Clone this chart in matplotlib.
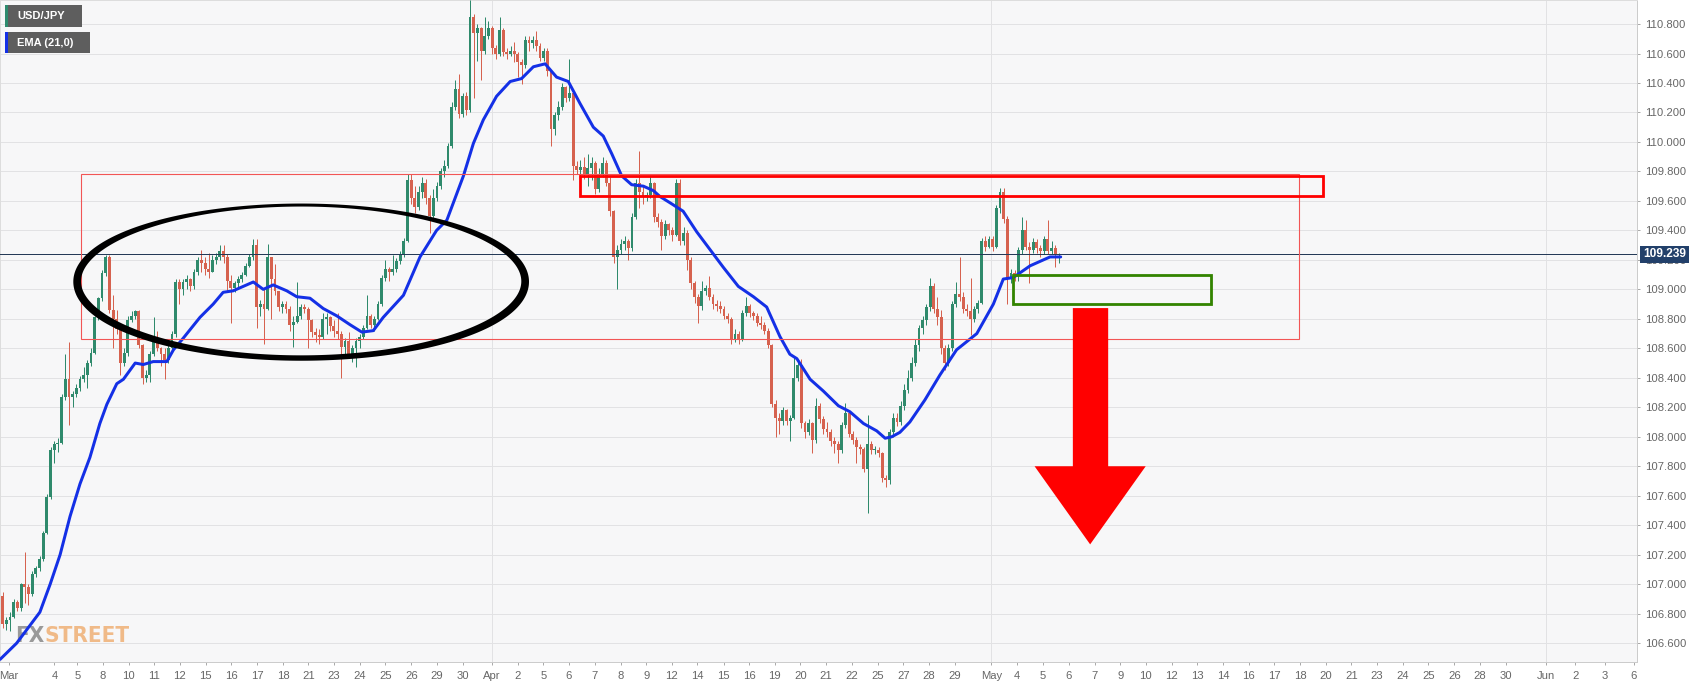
import matplotlib
matplotlib.use('Agg')
import numpy as np
import matplotlib.pyplot as plt
from matplotlib.patches import Rectangle, Polygon
from matplotlib import font_manager as fm

# ---------------- data ----------------
first_open = 106.92
close = [
106.73,106.76,106.78,106.88,106.84,107.00,106.98,106.93,107.07,107.11,
107.17,107.35,107.59,107.91,107.95,107.96,108.27,108.39,108.27,108.29,
108.33,108.39,108.42,108.50,108.57,108.81,108.94,109.11,109.22,108.86,
108.80,108.73,108.50,108.57,108.79,108.82,108.85,108.62,108.40,108.42,
108.56,108.66,108.60,108.56,108.52,108.60,108.70,109.05,109.00,109.05,
109.07,109.02,109.12,109.20,109.18,109.14,109.12,109.20,109.22,109.26,
109.22,109.06,109.01,109.04,109.07,109.10,109.16,109.22,109.30,108.88,
108.90,108.87,109.22,109.07,108.99,108.88,108.90,108.87,108.76,108.78,
108.82,108.88,108.87,108.79,108.71,108.69,108.68,108.80,108.81,108.75,
108.72,108.70,108.61,108.65,108.56,108.60,108.65,108.68,108.74,108.82,
108.76,108.80,108.90,109.08,109.14,109.12,109.14,109.19,109.24,109.33,
109.74,109.62,109.56,109.66,109.72,109.62,109.50,109.62,109.70,109.80,
109.84,109.97,110.24,110.36,110.19,110.31,110.22,110.85,110.74,110.77,
110.62,110.72,110.77,110.64,110.60,110.76,110.61,110.60,110.62,110.60,
110.54,110.52,110.69,110.67,110.69,110.65,110.57,110.62,110.48,110.09,
110.18,110.24,110.37,110.30,110.33,109.84,109.81,109.83,109.78,109.82,
109.86,109.68,109.78,109.86,109.72,109.53,109.22,109.27,109.31,109.33,
109.28,109.49,109.72,109.66,109.63,109.64,109.72,109.49,109.46,109.36,
109.44,109.40,109.37,109.72,109.33,109.38,109.20,109.04,108.95,108.89,
108.99,109.01,108.95,108.90,108.89,108.87,108.82,108.80,108.66,108.70,
108.66,108.84,108.89,108.84,108.82,108.77,108.76,108.72,108.62,108.22,
108.13,108.11,108.18,108.11,108.13,108.40,108.49,108.09,108.03,108.09,
107.98,108.21,108.12,108.05,108.03,107.97,107.95,107.91,108.08,108.16,
108.02,107.98,107.93,107.92,107.78,107.95,107.91,107.91,107.89,107.72,
107.71,108.03,108.13,108.10,108.21,108.32,108.40,108.50,108.62,108.74,
108.79,108.88,109.02,108.87,108.81,108.60,108.50,108.60,108.90,108.97,
108.95,108.87,108.85,108.80,108.87,108.91,109.33,109.29,109.34,109.29,
109.55,109.66,109.48,109.07,109.11,109.09,109.27,109.40,109.29,109.27,
109.32,109.28,109.26,109.34,109.26,109.28,109.23,109.239]
high = [
106.95,106.78,106.81,106.90,106.89,107.01,107.22,107.00,107.09,107.12,
107.19,107.36,107.61,107.93,107.97,107.99,108.29,108.56,108.64,108.31,
108.36,108.41,108.47,108.52,108.60,108.82,108.95,109.13,109.23,109.23,
108.96,108.86,108.76,108.60,108.82,108.85,108.86,108.86,108.63,108.45,
108.58,108.81,108.72,108.61,108.60,108.62,108.72,109.07,109.07,109.07,
109.10,109.08,109.14,109.22,109.27,109.22,109.25,109.23,109.25,109.30,
109.30,109.24,109.10,109.06,109.09,109.12,109.18,109.24,109.34,109.34,
108.93,109.00,109.31,109.22,109.17,108.98,108.92,108.92,108.89,108.82,
109.05,108.90,108.90,108.88,108.80,108.74,108.73,108.84,108.84,108.82,
108.79,108.84,108.72,108.67,108.71,108.62,108.67,108.70,108.76,108.96,
108.83,108.82,108.92,109.10,109.20,109.15,109.23,109.21,109.26,109.35,
109.78,109.78,109.70,109.70,109.76,109.75,109.64,109.68,109.73,109.82,
109.88,109.99,110.27,110.42,110.46,110.33,110.34,110.96,110.87,110.80,
110.78,110.85,110.82,110.79,110.66,110.85,110.77,110.64,110.65,110.68,
110.61,110.56,110.72,110.72,110.72,110.75,110.67,110.64,110.64,110.49,
110.20,110.28,110.40,110.38,110.56,110.35,109.87,109.88,109.90,109.92,
109.90,109.87,109.82,109.90,109.88,109.76,109.54,109.30,109.34,109.36,
109.34,109.52,109.75,109.94,109.70,109.66,109.77,109.73,109.52,109.48,
109.47,109.45,109.42,109.75,109.75,109.42,109.40,109.22,109.06,108.97,
109.06,109.03,109.09,108.97,108.93,108.92,108.89,108.84,108.81,108.73,
108.72,108.86,108.95,108.90,108.85,108.84,108.82,108.78,108.74,108.63,
108.25,108.16,108.20,108.19,108.15,108.54,108.52,108.53,108.11,108.12,
108.10,108.26,108.23,108.14,108.10,108.05,108.00,107.97,108.10,108.23,
108.17,108.04,108.00,107.95,107.93,108.15,107.97,107.94,107.93,107.90,
107.74,108.05,108.16,108.16,108.24,108.36,108.45,108.54,108.66,108.76,
108.82,108.90,109.08,109.04,108.95,108.86,108.62,108.63,108.92,109.05,
109.22,108.98,108.90,109.08,108.89,108.93,109.35,109.36,109.36,109.36,
109.57,109.69,109.69,109.50,109.14,109.13,109.29,109.49,109.47,109.32,
109.35,109.34,109.30,109.36,109.47,109.33,109.30,109.25]
low = [
106.70,106.69,106.68,106.77,106.82,106.82,106.87,106.86,106.92,107.05,
107.09,107.16,107.34,107.58,107.82,107.90,107.95,108.25,108.08,108.20,
108.27,108.31,108.37,108.33,108.48,108.56,108.79,108.92,109.09,108.84,
108.60,108.70,108.42,108.48,108.55,108.78,108.80,108.60,108.36,108.37,
108.37,108.55,108.58,108.48,108.39,108.50,108.58,108.68,108.90,108.96,
109.00,108.99,109.00,109.10,109.12,109.10,109.08,109.12,109.17,109.20,
109.18,108.98,108.77,108.98,109.00,109.05,109.09,109.15,109.20,108.74,
108.82,108.63,108.86,108.80,108.96,108.85,108.84,108.84,108.72,108.61,
108.77,108.80,108.84,108.60,108.68,108.64,108.63,108.66,108.70,108.72,
108.68,108.66,108.40,108.56,108.54,108.51,108.47,108.60,108.66,108.73,
108.74,108.72,108.79,108.89,109.06,109.06,109.10,109.12,109.17,109.22,
109.32,109.58,109.52,109.54,109.62,109.58,109.38,109.48,109.60,109.68,
109.76,109.82,109.96,110.22,110.16,110.17,110.18,110.20,110.30,110.55,
110.42,110.60,110.70,110.60,110.56,110.58,110.58,110.56,110.58,110.54,
110.44,110.39,110.50,110.62,110.64,110.62,110.55,110.55,110.45,109.97,
110.05,110.15,110.22,110.27,110.28,109.74,109.78,109.77,109.75,109.70,
109.74,109.65,109.66,109.76,109.70,109.50,109.18,109.00,109.24,109.27,
109.20,109.26,109.48,109.55,109.58,109.60,109.62,109.46,109.42,109.27,
109.34,109.37,109.33,109.36,109.30,109.30,109.13,109.00,108.91,108.77,
108.86,108.96,108.93,108.87,108.85,108.84,108.80,108.77,108.63,108.64,
108.63,108.65,108.82,108.81,108.79,108.75,108.73,108.70,108.60,108.20,
108.00,108.02,108.08,108.08,107.97,108.12,108.38,108.06,107.99,108.01,
107.89,107.96,108.09,108.02,108.00,107.94,107.89,107.82,107.89,108.06,
108.00,107.95,107.82,107.88,107.76,107.48,107.88,107.88,107.86,107.69,
107.66,107.68,108.00,108.07,108.08,108.18,108.30,108.38,108.48,108.58,
108.70,108.76,108.85,108.84,108.76,108.56,108.45,108.48,108.58,108.88,
108.92,108.84,108.82,108.69,108.78,108.84,108.90,109.26,109.28,109.26,
109.28,109.52,109.45,108.90,109.04,109.06,109.06,109.24,109.27,109.04,
109.25,109.25,109.22,109.24,109.24,109.24,109.15,109.18]

# EMA(21): candle index -> value
ema_x = [-0.7,3.8,10.1,12.9,15.6,18.3,21.0,23.7,26.4,28.3,31.0,32.8,36.0,38.2,40.9,44.6,
         46.4,49.1,53.6,57.2,59.9,62.6,68.1,70.8,73.5,77.2,79.9,83.5,87.1,90.8,94.4,97.6,
         100.7,103.4,108.9,113.4,117.9,120.7,125.2,127.9,130.6,134.2,137.9,141.0,144.2,
         147.4,150.5,153.7,156.9,160.5,163.2,165.5,168.2,170.9,174.1,176.8,178.6,181.8,
         184.9,188.6,192.2,195.8,199.9,204.0,207.6,211.2,213.9,215.8,219.4,223.0,227.1,
         230.2,233.9,237.5,239.8,241.6,243.8,246.5,250.6,254.7,259.2,264.7,269.2,271.9,
         274.6,279.2,284.6,287.5]
ema_y = [106.49,106.60,106.81,107.00,107.20,107.46,107.68,107.86,108.09,108.22,108.36,108.39,
         108.50,108.49,108.51,108.51,108.59,108.67,108.81,108.90,108.98,108.99,109.05,109.00,
         109.03,108.99,108.95,108.94,108.87,108.82,108.76,108.71,108.72,108.81,108.96,109.22,
         109.40,109.47,109.77,109.99,110.15,110.31,110.41,110.43,110.51,110.53,110.44,110.41,
         110.26,110.10,110.04,109.92,109.77,109.71,109.70,109.67,109.63,109.58,109.53,109.39,
         109.27,109.15,109.02,108.95,108.88,108.68,108.56,108.53,108.39,108.31,108.21,108.17,
         108.09,108.04,107.99,108.00,108.03,108.10,108.25,108.42,108.59,108.70,108.90,109.07,
         109.08,109.16,109.22,109.22]

xtick_pos = [1.6,14.05,20.27,27.15,34.21,41.17,48.13,55.11,62.17,69.13,76.22,83.07,90.05,97.01,
             103.97,111.06,117.91,124.97,132.99,139.95,146.93,153.89,160.84,167.91,174.86,
             181.82,188.80,195.87,202.83,209.81,216.77,223.72,230.71,237.77,244.73,251.71,
             258.67,268.64,275.63,282.69,289.65,296.74,303.70,310.65,317.64,324.62,331.60,
             338.56,345.52,352.58,359.54,366.49,373.48,380.43,387.39,394.46,401.41,408.37,
             419.40,427.34,435.35,443.29]
xtick_labels = ['Mar','4','5','8','10','11','12','15','16','17','18','21','23','24','25','26',
                '29','30','Apr','2','5','6','7','8','9','12','14','15','16','19','20','21','22',
                '25','27','28','29','May','4','5','6','7','9','10','12','13','14','16','17','18',
                '20','21','23','24','25','26','28','30','Jun','2','3','6']
month_lines = [132.99, 268.64, 419.40]
ytick_vals = [106.6,106.8,107.0,107.2,107.4,107.6,107.8,108.0,108.2,108.4,108.6,108.8,
              109.0,109.2,109.4,109.6,109.8,110.0,110.2,110.4,110.6,110.8]
last_price = 109.239
symbol_label = 'USD/JPY'
ema_label = 'EMA (21,0)'

# ---------------- figure ----------------
W, H = 1708, 688
fig = plt.figure(figsize=(W / 100, H / 100), dpi=100)
fig.patch.set_facecolor('white')
ax = fig.add_axes([0, 26 / H, 1637 / W, 662 / H])
ax.set_facecolor('#f7f7f8')
X0, X1 = -0.734, 444.1
Y0, Y1 = 106.472, 110.963
ax.set_xlim(X0, X1)
ax.set_ylim(Y0, Y1)
ux = 1637 / (X1 - X0)   # pixels per candle
uy = 662 / (Y1 - Y0)    # pixels per price unit

GREEN = '#2f8a6c'
RED = '#d6624f'
PX = 72 / 100  # points per pixel

opens = [first_open] + close[:-1]
for i, (o, c, h, l) in enumerate(zip(opens, close, high, low)):
    col = GREEN if c >= o else RED
    hi = max(h, o, c)
    lo = min(l, o, c)
    ax.vlines(i, lo, hi, color=col, lw=1.0 * PX, zorder=3)
    bot = min(o, c)
    ht = max(abs(c - o), 0.007)
    ax.bar(i, ht, bottom=bot, width=0.78, color=col, lw=0, zorder=3)

ax.plot(ema_x, ema_y, color='#1430e6', lw=3.0 * PX, zorder=5, solid_capstyle='round')

# grid / month lines
ax.set_yticks(ytick_vals)
ax.yaxis.grid(True, color='#e2e2e4', lw=1.0 * PX, zorder=0)
ax.set_axisbelow(True)
for m in month_lines:
    ax.axvline(m, color='#e2e2e4', lw=1.0 * PX, zorder=0.5)

# current price line
ax.axhline(last_price, color='#253a57', lw=1.0 * PX, zorder=4)

# annotations
ax.add_patch(Rectangle((21.2, 108.66), 352.3 - 21.2, 109.78 - 108.66, fill=False,
                       ec='#f25555', lw=1.1 * PX, zorder=6))
ax.add_patch(Rectangle((156.9, 109.63), 358.8 - 156.9, 109.77 - 109.63, fill=False,
                       ec='#ff0000', lw=2.8 * PX, zorder=6))
ax.add_patch(Rectangle((274.6, 108.90), 328.3 - 274.6, 109.10 - 108.90, fill=False,
                       ec='#338400', lw=2.8 * PX, zorder=6))

# hand-drawn ellipse: ring with varying stroke width (thin at top, thick at sides)
cx, cy, a_px, b_px = 81.1, 109.053, 224.0, 76.5
t = np.linspace(0, 2 * np.pi, 400)
px = a_px * np.cos(t)
py = b_px * np.sin(t)
nx = b_px * np.cos(t)
ny = a_px * np.sin(t)
nn = np.hypot(nx, ny)
nx, ny = nx / nn, ny / nn
wdt = 3.0 + 1.2 * (1 - np.sin(t)) + 3.5 * np.cos(t) ** 2
ox, oy = px + nx * wdt / 2, py + ny * wdt / 2
ix, iy = px - nx * wdt / 2, py - ny * wdt / 2
ring_x = np.concatenate([ox, ix[::-1]]) / ux + cx
ring_y = np.concatenate([oy, iy[::-1]]) / uy + cy
ax.fill(ring_x, ring_y, color='black', lw=0, zorder=7)

ax.add_patch(Polygon([(290.8, 108.873), (300.4, 108.873), (300.4, 107.80), (310.6, 107.80),
                      (295.5, 107.27), (280.4, 107.80), (290.8, 107.80)],
                     closed=True, fc='#ff0000', ec='none', zorder=6))

# axes styling
for s in ['left', 'top']:
    ax.spines[s].set_color('#dddddd')
    ax.spines[s].set_linewidth(1.0 * PX)
for s in ['right', 'bottom']:
    ax.spines[s].set_color('#cccccc')
    ax.spines[s].set_linewidth(1.0 * PX)

ax.yaxis.tick_right()
ax.set_yticklabels(['%.3f' % v for v in ytick_vals])
ax.set_xticks(xtick_pos)
ax.set_xticklabels(xtick_labels)
ax.tick_params(axis='both', direction='out', length=3 * PX, width=1.0 * PX, color='#aaaaaa',
               labelsize=8.1, labelcolor='#666666')
ax.tick_params(axis='y', pad=4)
ax.tick_params(axis='x', pad=4)
for tl in ax.get_xticklabels() + ax.get_yticklabels():
    tl.set_family(['Liberation Sans', 'DejaVu Sans'])

# price tag (covers the 109.200 label, as in the source chart)
ax.annotate('%.3f' % last_price, xy=(1.0, last_price), xycoords=('axes fraction', 'data'),
            xytext=(6, 0), textcoords='offset pixels', va='center', ha='left',
            fontsize=8.6, fontweight='bold', color='white', family=['Liberation Sans', 'DejaVu Sans'],
            bbox=dict(boxstyle='square,pad=0.22', fc='#22406a', ec='none'), zorder=10,
            annotation_clip=False)

# legend boxes (top-left)
def legend_box(y0, y1, x1, stripe, label):
    fig.add_artist(Rectangle((5 / W, 1 - y1 / H), (x1 - 5) / W, (y1 - y0) / H,
                             transform=fig.transFigure, fc='#5e5e5e', ec='none', zorder=20))
    fig.add_artist(Rectangle((5 / W, 1 - y1 / H), 2.5 / W, (y1 - y0) / H,
                             transform=fig.transFigure, fc=stripe, ec='none', zorder=21))
    fig.text(17 / W, 1 - (y0 + y1) / 2 / H, label, va='center', ha='left', color='white',
             fontsize=8, fontweight='bold', family=['Liberation Sans', 'DejaVu Sans'], zorder=22)

legend_box(5, 27, 82, '#2e8b6e', symbol_label)
legend_box(32, 53, 90, '#1430e6', ema_label)

# watermark: prefer the most condensed bold face installed
stretch_rank = {'ultra-condensed': 0, 'extra-condensed': 1, 'condensed': 2, 'semi-condensed': 3}
best = None
for f in fm.fontManager.ttflist:
    st = str(f.stretch)
    w = f.weight
    if isinstance(w, str):
        w = {'bold': 700, 'heavy': 800, 'black': 900, 'semibold': 600, 'demibold': 600,
             'extra bold': 800, 'ultrabold': 800}.get(w, 400)
    if st in stretch_rank and w >= 600:
        key = (stretch_rank[st], abs(w - 700))
        if best is None or key < best[0]:
            best = (key, f.fname)
if best is not None:
    wm_prop = fm.FontProperties(fname=best[1])
else:
    wm_prop = fm.FontProperties(family=['Liberation Sans', 'DejaVu Sans'], weight='bold')

renderer = fig.canvas.get_renderer()
probe = ax.text(0, 0, 'FXSTREET', transform=fig.transFigure, fontproperties=wm_prop, fontsize=20)
wpx = probe.get_window_extent(renderer).width
probe.remove()
wm_size = min(27, 20 * 114.0 / wpx)

t1 = ax.text(15 / W, 1 - 642 / H, 'FX', transform=fig.transFigure, fontproperties=wm_prop,
             fontsize=wm_size, color='#999999', va='baseline', ha='left', zorder=1)
bb = t1.get_window_extent(renderer)
ax.text(bb.x1 / W, 1 - 642 / H, 'STREET', transform=fig.transFigure, fontproperties=wm_prop,
        fontsize=wm_size, color='#f0ba88', va='baseline', ha='left', zorder=1)

fig.savefig('out.png', dpi=100, facecolor='white')
